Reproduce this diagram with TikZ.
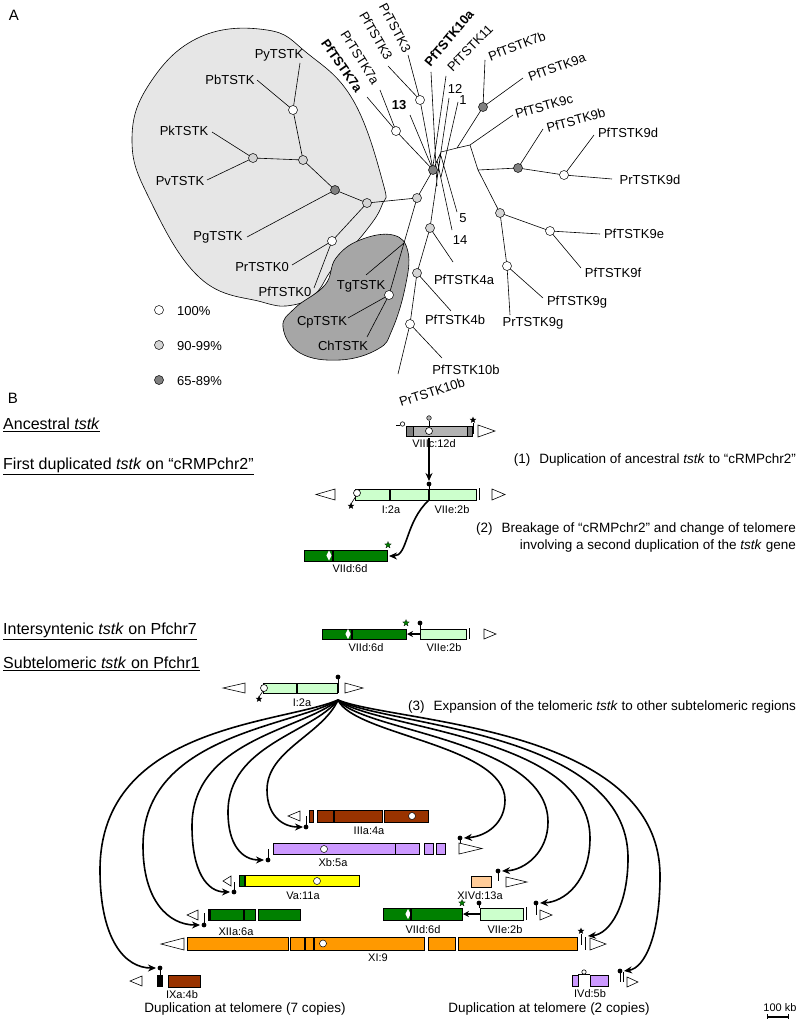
\documentclass[tikz,border=0pt]{standalone}
\usepackage{fontspec}
\setmainfont{Liberation Sans}
\usetikzlibrary{arrows.meta,shapes.geometric}
\definecolor{lgreen}{HTML}{CCFFCC}
\definecolor{dgreen}{HTML}{008000}
\definecolor{brownc}{HTML}{993300}
\definecolor{purp}{HTML}{CC99FF}
\definecolor{yell}{HTML}{FFFF00}
\definecolor{peach}{HTML}{FFCC99}
\definecolor{orng}{HTML}{FF9900}
\definecolor{blobL}{HTML}{E6E6E6}
\definecolor{blobD}{HTML}{A6A6A6}
\definecolor{nodeL}{HTML}{D4D4D4}
\definecolor{nodeD}{HTML}{808080}
\definecolor{barG}{HTML}{B3B3B3}
\definecolor{barGD}{HTML}{7F7F7F}
\newcommand\mtel[4]{\draw[fill=white,line width=0.6pt] (#1,#3) -- (#2,{(#3+#4)/2}) -- (#1,#4) -- cycle;}
\newcommand\mdv[3]{\draw[line width=1.4pt] (#1,#2) -- (#1,#3);}
\newcommand\mlol[3]{\draw[line width=0.8pt] (#1,#2) -- (#1,#3); \fill (#1,#2) circle[radius=2.4];}
\newcommand\mdia[2]{\fill[white] (#1,#2-5) -- (#1+2.6,#2) -- (#1,#2+5) -- (#1-2.6,#2) -- cycle;}
\newcommand\mbar[5]{\filldraw[fill=#1,draw=black,line width=0.5pt] (#2,#3) rectangle (#4,#5);}
\begin{document}
\begin{tikzpicture}[x=1pt,y=-1pt,
 tree/.style={line width=0.6pt},
 nd/.style={circle,draw,line width=0.5pt,inner sep=0pt,minimum size=9pt},
 wn/.style={nd,fill=white}, gn/.style={nd,fill=nodeL}, dn/.style={nd,fill=nodeD},
 lab/.style={font=\fontsize{13}{15}\selectfont,inner sep=0pt},
 labb/.style={font=\fontsize{13}{15}\selectfont\bfseries,inner sep=0pt},
 sml/.style={font=\fontsize{11}{13}\selectfont,inner sep=0pt},
 ann/.style={font=\fontsize{13.5}{16}\selectfont,inner sep=0pt,anchor=east},
 hd/.style={font=\fontsize{16}{19}\selectfont,inner sep=0pt,anchor=west},
 arr/.style={line width=1.6pt,-{Stealth[length=8pt,width=7pt]}},
 sB/.style={star,star points=5,star point ratio=2.3,fill=black,inner sep=0pt,minimum size=7pt},
 sG/.style={sB,fill=dgreen,draw=black,line width=0.2pt}]
\useasboundingbox (0,0) rectangle (797,1019);
\fill[white] (0,0) rectangle (797,1019);
\node[font=\fontsize{15}{17}\selectfont,inner sep=0pt] (tA) at (14,15) {A};
\node[font=\fontsize{15}{17}\selectfont,inner sep=0pt] (tB) at (13,398) {B};
% ---------- blobs
\filldraw[fill=blobL,draw=black,line width=0.6pt] plot[smooth cycle,tension=0.7] coordinates {(132,140) (150,83) (200,37) (267,30) (307,53) (353,100) (383,183) (382,205) (365,232) (333,268) (316,293) (293,305) (262,302) (200,278) (150,200)};
\filldraw[fill=blobD,draw=black,line width=0.6pt] plot[smooth cycle,tension=0.7] coordinates {(283,327) (295,308) (325,285) (336,258) (360,240) (393,235) (408,252) (405,288) (392,330) (378,349) (340,360) (300,353)};
% ---------- tree coordinates
\coordinate (p1) at (293,110); \coordinate (p2) at (303,160); \coordinate (p3) at (253,158);
\coordinate (p4) at (335,190); \coordinate (p5) at (367,203); \coordinate (p6) at (332,241);
\coordinate (p7) at (389,295); \coordinate (p8) at (417,198); \coordinate (p9) at (433,170);
\coordinate (p10) at (396,131); \coordinate (p11) at (420,100); \coordinate (p12) at (483,107);
\coordinate (p13) at (518,168); \coordinate (p14) at (564,175); \coordinate (p15) at (500,213);
\coordinate (p16) at (550,231); \coordinate (p17) at (507,266); \coordinate (p18) at (430,228);
\coordinate (p19) at (417,273); \coordinate (p20) at (410,324);
\coordinate (ePy) at (300,63); \coordinate (ePb) at (257,80); \coordinate (ePk) at (212,132);
\coordinate (ePv) at (207,180); \coordinate (ePg) at (247,237); \coordinate (ePr0) at (292,265);
\coordinate (ePf0) at (314,288); \coordinate (j1) at (404,243); \coordinate (eTg) at (366,275);
\coordinate (eCp) at (348,318); \coordinate (eCh) at (367,337);
\coordinate (eF7a) at (367,97); \coordinate (eR7a) at (380,90); \coordinate (eF3) at (388,66);
\coordinate (eR3) at (408,55); \coordinate (e13) at (410,115);
\coordinate (eF10a) at (431,72); \coordinate (bF10a) at (437,186);
\coordinate (eF11) at (446,76); \coordinate (bF11) at (433,166);
\coordinate (e12) at (449,98); \coordinate (b12) at (437,178);
\coordinate (e1) at (458,102); \coordinate (b1) at (441,177);
\coordinate (e5) at (457,212); \coordinate (b5) at (441,156);
\coordinate (e14) at (452,230); \coordinate (b14) at (437,160);
\coordinate (th) at (441,152); \coordinate (j2) at (457,148); \coordinate (j3) at (470,145);
\coordinate (j4) at (478,170);
\coordinate (eF7b) at (485,60); \coordinate (eF9a) at (523,78); \coordinate (eF9c) at (513,115);
\coordinate (eF9b) at (543,129); \coordinate (eF9d) at (594,135); \coordinate (eR9d) at (612,179);
\coordinate (eF9e) at (600,234); \coordinate (eF9f) at (581,268); \coordinate (eF9g) at (543,298);
\coordinate (eR9g) at (510,315); \coordinate (eF4a) at (453,262); \coordinate (eF4b) at (451,311);
\coordinate (eF10b) at (442,358); \coordinate (eR10b) at (398,374);
\draw[tree] (p1)--(ePy) (p1)--(ePb) (p1)--(p2) (p3)--(ePk) (p3)--(ePv) (p3)--(p2) (p2)--(p4)
 (p4)--(ePg) (p4)--(p5) (p5)--(p6) (p6)--(ePr0) (p6)--(ePf0) (p5)--(p8)
 (j1)--(eTg) (j1)--(p7) (p7)--(eCp) (p7)--(eCh) (j1)--(p8) (p8)--(p9)
 (p9)--(p10) (p10)--(eF7a) (p10)--(eR7a) (p9)--(e13) (p11)--(eF3) (p11)--(eR3) (p11)--(p9)
 (p9)--(th) (eF10a)--(bF10a) (eF11)--(bF11) (e12)--(b12) (e1)--(b1) (e5)--(b5) (e14)--(b14)
 (th)--(j2)--(j3) (j2)--(p12) (p12)--(eF7b) (p12)--(eF9a) (j3)--(eF9c) (j3)--(j4)--(p15)
 (j4)--(p13) (p13)--(eF9b) (p13)--(p14) (p14)--(eF9d) (p14)--(eR9d)
 (p15)--(p16) (p16)--(eF9e) (p16)--(eF9f) (p15)--(p17) (p17)--(eF9g) (p17)--(eR9g)
 (p18)--(th) (p18)--(eF4a) (p18)--(p19) (p19)--(eF4b) (p19)--(p20) (p20)--(eF10b) (p20)--(eR10b);
\node[wn] (n1) at (p1) {}; \node[gn] (n2) at (p2) {}; \node[gn] (n3) at (p3) {};
\node[dn] (n4) at (p4) {}; \node[gn] (n5) at (p5) {}; \node[wn] (n6) at (p6) {};
\node[wn] (n7) at (p7) {}; \node[gn] (n8) at (p8) {}; \node[dn] (n9) at (p9) {};
\node[wn] (n10) at (p10) {}; \node[wn] (n11) at (p11) {}; \node[dn] (n12) at (p12) {};
\node[dn] (n13) at (p13) {}; \node[wn] (n14) at (p14) {}; \node[gn] (n15) at (p15) {};
\node[wn] (n16) at (p16) {}; \node[wn] (n17) at (p17) {}; \node[gn] (n18) at (p18) {};
\node[gn] (n19) at (p19) {}; \node[wn] (n20) at (p20) {};
% ---------- tree labels
\node[lab] (lPy) at (279,55) {PyTSTK};
\node[lab] (lPb) at (230,80) {PbTSTK};
\node[lab] (lPk) at (184,131) {PkTSTK};
\node[lab] (lPv) at (180,181) {PvTSTK};
\node[lab] (lPg) at (218,237) {PgTSTK};
\node[lab] (lPr0) at (262,267) {PrTSTK0};
\node[lab] (lPf0) at (285,292) {PfTSTK0};
\node[lab] (lTg) at (361,286) {TgTSTK};
\node[lab] (lCp) at (322,322) {CpTSTK};
\node[lab] (lCh) at (343,346) {ChTSTK};
\node[labb,rotate=-55] (lF7a) at (342,66) {PfTSTK7a};
\node[lab,rotate=-58] (lR7a) at (360,58) {PrTSTK7a};
\node[lab,rotate=-60] (lF3) at (376,36) {PfTSTK3};
\node[lab,rotate=-62] (lR3) at (395,28) {PrTSTK3};
\node[labb] (l13) at (399,105) {13};
\node[labb,rotate=50] (lF10a) at (449,38) {PfTSTK10a};
\node[lab,rotate=46] (lF11) at (470,48) {PfTSTK11};
\node[lab] (l12) at (455,89) {12};
\node[lab] (l1) at (463,100) {1};
\node[lab,rotate=21] (lF7b) at (517,46) {PfTSTK7b};
\node[lab,rotate=20] (lF9a) at (557,67) {PfTSTK9a};
\node[lab,rotate=16] (lF9c) at (544,106) {PfTSTK9c};
\node[lab,rotate=15] (lF9b) at (576,120) {PfTSTK9b};
\node[lab] (lF9d) at (628,133) {PfTSTK9d};
\node[lab] (lR9d) at (650,180) {PrTSTK9d};
\node[lab] (lF9e) at (634,234) {PfTSTK9e};
\node[lab] (lF9f) at (613,273) {PfTSTK9f};
\node[lab] (lF9g) at (577,302) {PfTSTK9g};
\node[lab] (lR9g) at (533,323) {PrTSTK9g};
\node[lab] (l5) at (463,218) {5};
\node[lab] (l14) at (460,240) {14};
\node[lab] (lF4a) at (464,280) {PfTSTK4a};
\node[lab] (lF4b) at (455,320) {PfTSTK4b};
\node[lab] (lF10b) at (466,370) {PfTSTK10b};
\node[lab,rotate=18] (lR10b) at (432,392) {PrTSTK10b};
% legend
\node[wn] (kw) at (159,310) {}; \node[lab,anchor=west] (kwl) at (177,311) {100\%};
\node[gn] (kg) at (159,345) {}; \node[lab,anchor=west] (kgl) at (177,346) {90-99\%};
\node[dn] (kd) at (159,380) {}; \node[lab,anchor=west] (kdl) at (177,381) {65-89\%};
% ---------- Part B headings
\node[hd] (h1) at (3,425) {\underline{Ancestral \textit{tstk}}};
\node[hd] (h2) at (3,466) {\underline{First duplicated \textit{tstk} on “cRMPchr2”}};
\node[hd] (h3) at (3,631) {\underline{Intersyntenic \textit{tstk} on Pfchr7}};
\node[hd] (h4) at (3,664) {\underline{Subtelomeric \textit{tstk} on Pfchr1}};
\node[ann] (a1) at (796,460) {(1)\hspace{9pt}Duplication of ancestral \textit{tstk} to “cRMPchr2”};
\node[ann] (a2) at (796,529) {(2)\hspace{9pt}Breakage of “cRMPchr2” and change of telomere};
\node[ann] (a2b) at (796,546) {involving a second duplication of the \textit{tstk} gene};
\node[ann] (a3) at (796,707) {(3)\hspace{9pt}Expansion of the telomeric \textit{tstk} to other subtelomeric regions};
% ---------- Ancestral VIIIc:12d
\mbar{barG}{406}{426}{467}{436}
\mbar{barGD}{406}{426}{413}{436}
\mbar{barGD}{467}{426}{472}{436}
\draw[line width=0.6pt,fill=white] (429,431) circle[radius=3.5];
\draw[line width=0.6pt] (429,421)--(429,426);
\draw[line width=0.5pt,fill=barG] (429,418) circle[radius=2.3];
\draw[line width=0.6pt] (396,425)--(400,425);
\draw[line width=0.6pt,fill=white] (402.5,424) circle[radius=2.2];
\draw[line width=0.7pt] (473,423)--(473,434);
\node[sB] (sv1) at (473,420) {};
\mtel{478}{495}{425}{437}
\node[sml] (lVIIIc) at (434,443.5) {VIIIc:12d};
\coordinate (anc) at (429,438); \coordinate (dup) at (429,481);
\draw[arr] (anc)--(dup);
% ---------- First duplicated
\mtel{335}{316}{489}{500}
\mbar{lgreen}{355}{489}{476}{500}
\mdv{390}{489}{500} \mdv{429}{489}{500}
\draw[line width=0.9pt] (479,488)--(479,500);
\mtel{492}{505}{489}{500}
\draw[line width=0.6pt] (356,496)--(351,504);
\draw[line width=0.6pt,fill=white] (357,493) circle[radius=3.5];
\node[sB] (sf1) at (351,506) {};
\mlol{429}{484}{489}
\node[sml] (lI2a) at (391,509.5) {I:2a};
\node[sml] (lVIIe) at (452,509.5) {VIIe:2b};
\coordinate (brk) at (429,500); \coordinate (vd1) at (389,556);
\draw[arr] (brk) .. controls (405,522) and (408,556) .. (vd1);
\mbar{dgreen}{304}{550}{387}{561}
\mdia{329}{555.5} \mdv{333}{550}{561}
\node[sG] (sg1) at (388,545) {};
\node[sml] (lVIId1) at (350,569) {VIId:6d};
% ---------- Intersyntenic
\mbar{dgreen}{322}{629}{406}{639}
\mdia{348}{634} \mdv{352}{629}{639}
\node[sG] (sg2) at (406,623) {};
\mbar{lgreen}{420}{629}{466}{639}
\draw[line width=0.9pt] (469,628)--(469,639);
\mtel{484}{496}{629}{639}
\mlol{420}{623}{629}
\coordinate (ia) at (421,634); \coordinate (ib) at (407,634);
\draw[line width=1.6pt,-{Stealth[length=6pt,width=6pt]}] (ia)--(ib);
\node[sml] (lVIId2) at (366,648) {VIId:6d};
\node[sml] (lVIIe2) at (444,648) {VIIe:2b};
% ---------- Subtelomeric I:2a
\mtel{245}{223}{683}{693}
\mbar{lgreen}{263}{683}{337}{693}
\mdv{297}{683}{693}
\draw[line width=0.6pt] (263,691)--(259,697);
\draw[line width=0.6pt,fill=white] (264,688) circle[radius=3.5];
\node[sB] (sf2) at (259,699) {};
\mlol{338}{677}{693}
\mtel{345}{363}{683}{693}
\node[sml] (lI2a2) at (302,703) {I:2a};
% ---------- IIIa:4a
\mtel{300}{288}{811}{821}
\mlol{306}{827}{816}
\mbar{brownc}{309}{810}{313}{822}
\mbar{brownc}{317}{810}{382}{822}
\mbar{brownc}{384}{810}{428}{822}
\mdv{334}{810}{822}
\draw[line width=0.5pt,fill=white] (412,816) circle[radius=3.5];
\node[sml] (lIIIa) at (369,831) {IIIa:4a};
% ---------- Xb:5a
\mlol{268}{860}{849}
\mbar{purp}{273}{843}{395}{854}
\mbar{purp}{395}{843}{419}{854}
\mbar{purp}{424}{843}{433}{854}
\mbar{purp}{436}{843}{445}{854}
\draw[line width=0.5pt,fill=white] (324,849) circle[radius=3.5];
\mlol{460}{838}{852}
\mtel{459}{482}{843}{854}
\node[sml] (lXb) at (333,863) {Xb:5a};
% ---------- Va:11a
\mtel{231}{223}{876}{886}
\mlol{234}{892}{882}
\mbar{yell}{239}{875}{359}{886}
\fill[dgreen] (240,875.5) rectangle (244,885.5);
\mdv{245}{875}{886}
\draw[line width=0.5pt,fill=white] (317,881) circle[radius=3.5];
\node[sml] (lVa) at (303,896) {Va:11a};
% ---------- XIVd:13a
\mbar{peach}{471}{876}{491}{887}
\node[sml] (lXIVd) at (480,896) {XIVd:13a};
\mlol{498}{871}{881}
\mtel{506}{527}{877}{887}
% ---------- XIIa:6a
\mtel{198}{187}{910}{920}
\mlol{204}{925}{913}
\mbar{dgreen}{208}{909}{255}{920}
\mbar{dgreen}{258}{909}{300}{920}
\mdv{210}{909}{920} \mdv{244}{909}{920}
\node[sml] (lXIIa) at (236,932) {XIIa:6a};
% ---------- VIId/VIIe bottom
\mbar{dgreen}{383}{908}{462}{920}
\mdia{408}{914} \mdv{411}{908}{920}
\node[sG] (sg3) at (462,903) {};
\mbar{lgreen}{480}{908}{523}{920}
\mlol{479}{903}{908}
\coordinate (ic) at (480,914); \coordinate (id) at (463,914);
\draw[line width=1.6pt,-{Stealth[length=6pt,width=6pt]}] (ic)--(id);
\draw[line width=0.9pt] (526,907)--(526,920);
\mlol{536}{903}{915}
\mtel{540}{552}{910}{920}
\node[sml] (lVIId3) at (423,930) {VIId:6d};
\node[sml] (lVIIe3) at (505,930) {VIIe:2b};
% ---------- XI:9
\mtel{184}{161}{938}{950}
\mbar{orng}{187}{937}{288}{950}
\mbar{orng}{290}{937}{424}{950}
\mbar{orng}{428}{937}{455}{950}
\mbar{orng}{458}{937}{577}{950}
\mdv{305}{937}{950} \mdv{314}{937}{950}
\draw[line width=0.5pt,fill=white] (323,943.5) circle[radius=3.5];
\draw[line width=0.7pt] (581,934)--(581,945);
\node[sB] (sb4) at (581,931) {};
\draw[line width=0.7pt] (585,937)--(585,950);
\mtel{590}{606}{938}{950}
\node[sml] (lXI) at (378,958) {XI:9};
% ---------- IXa:4b
\mtel{142}{130}{976}{986}
\fill (157,975) rectangle (163,987);
\mlol{160}{968}{975}
\mbar{brownc}{168}{975}{200}{987}
\node[sml] (lIXa) at (182,995) {IXa:4b};
% ---------- IVd:5b
\mbar{purp}{572}{975}{578}{986}
\mbar{purp}{590}{975}{608}{986}
\draw[line width=0.6pt] (578,974)--(590,974);
\draw[line width=0.6pt,fill=white] (584,972) circle[radius=2.2];
\node[sml] (lIVd) at (590,994) {IVd:5b};
\draw[line width=0.7pt] (623,972)--(623,982);
\mlol{620}{971}{982}
\mtel{627}{638}{977}{987}
% ---------- bottom captions, scale bar
\node[font=\fontsize{13.5}{16}\selectfont,inner sep=0pt] (c7) at (245,1009) {Duplication at telomere (7 copies)};
\node[font=\fontsize{13.5}{16}\selectfont,inner sep=0pt] (c2) at (549,1009) {Duplication at telomere (2 copies)};
\node[sml] (lkb) at (780,1008) {100 kb};
\coordinate (kb1) at (767,1017); \coordinate (kb2) at (788,1017);
\draw[line width=1.2pt] (kb1)--(kb2);
\draw[line width=0.8pt] (767,1014)--(767,1019) (788,1014)--(788,1019);
% ---------- fan of arrows
\coordinate (fh) at (338,700);
\coordinate (tIIIa) at (303,827); \coordinate (tXbL) at (264,860); \coordinate (tVa) at (230,892);
\coordinate (tXIIa) at (200,925); \coordinate (tIXa) at (156,968);
\coordinate (tXbR) at (464,838); \coordinate (tXIVd) at (502,871); \coordinate (tVIIe) at (540,903);
\coordinate (tXI) at (588,936); \coordinate (tIVd) at (624,971);
\draw[arr] (fh) .. controls (322,735) and (267,750) .. (267,790) .. controls (267,815) and (282,827) .. (tIIIa);
\draw[arr] (fh) .. controls (312,733) and (228,745) .. (228,812) .. controls (228,845) and (242,860) .. (tXbL);
\draw[arr] (fh) .. controls (302,730) and (192,740) .. (192,826) .. controls (192,872) and (207,892) .. (tVa);
\draw[arr] (fh) .. controls (292,727) and (143,735) .. (143,846) .. controls (143,900) and (168,925) .. (tXIIa);
\draw[arr] (fh) .. controls (282,724) and (100,725) .. (100,870) .. controls (100,940) and (125,968) .. (tIXa);
\draw[arr] (fh) .. controls (354,735) and (505,745) .. (505,800) .. controls (505,822) and (488,836) .. (tXbR);
\draw[arr] (fh) .. controls (364,732) and (548,740) .. (548,822) .. controls (548,852) and (525,870) .. (tXIVd);
\draw[arr] (fh) .. controls (374,729) and (590,735) .. (590,838) .. controls (590,882) and (564,902) .. (tVIIe);
\draw[arr] (fh) .. controls (384,726) and (628,730) .. (628,858) .. controls (628,905) and (610,934) .. (tXI);
\draw[arr] (fh) .. controls (394,723) and (660,725) .. (660,876) .. controls (660,935) and (645,968) .. (tIVd);
\end{tikzpicture}
\end{document}
